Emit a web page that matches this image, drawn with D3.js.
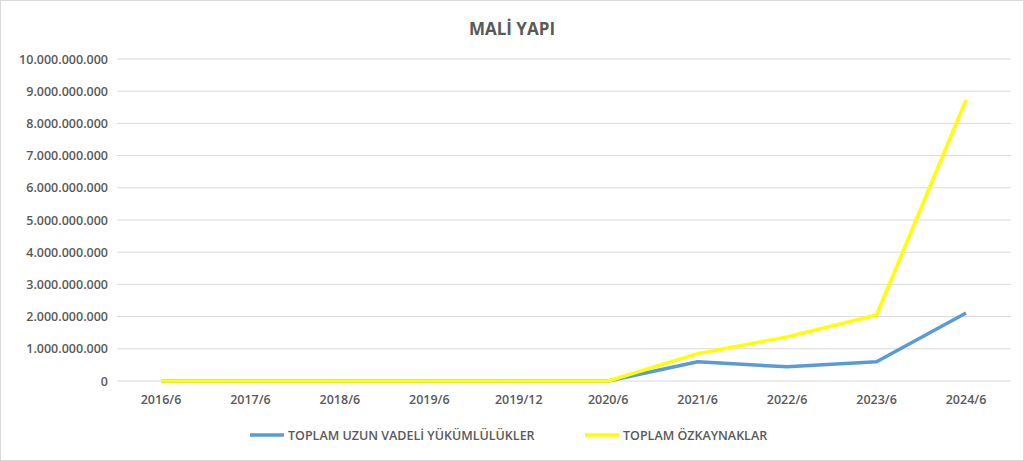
<!DOCTYPE html>
<html><head><meta charset="utf-8">
<script src="https://cdn.jsdelivr.net/npm/d3@7"></script>
<style>body{margin:0;background:#fff}svg{font-family:"Open Sans","Liberation Sans",sans-serif}</style>
</head><body><svg id="c" width="1024" height="461"></svg>
<script>
const categories=["2016/6","2017/6","2018/6","2019/6","2019/12","2020/6","2021/6","2022/6","2023/6","2024/6"];
const longTermLiabilities=[0,0,0,0,0,0,600000000,440000000,600000000,2110000000];
const equity=[0,0,0,0,0,0,850000000,1370000000,2050000000,8730000000];
const seriesNames=["TOPLAM UZUN VADELİ YÜKÜMLÜLÜKLER","TOPLAM ÖZKAYNAKLAR"];
const yTicks=d3.range(0,10000000001,1000000000);
const svg=d3.select("#c");
svg.append("rect").attr("x",0.5).attr("y",0.5).attr("width",1023).attr("height",460).attr("fill","#fff").attr("stroke","#d9d9d9");
const x=d3.scalePoint().domain(categories).range([161,966]).padding(0);
const y=d3.scaleLinear().domain([0,10000000000]).range([381,59]);
const fmt=v=>d3.format(",")(v).replace(/,/g,".");
svg.append("g").selectAll("line").data(yTicks).join("line").attr("x1",117).attr("x2",1011).attr("y1",d=>y(d)).attr("y2",d=>y(d)).attr("stroke","#d9d9d9");
svg.append("g").selectAll("text").data(yTicks).join("text").attr("x",108).attr("y",d=>y(d)+4.5).attr("text-anchor","end").attr("font-size",12.5).attr("font-weight",600).attr("fill","#595959").text(fmt);
svg.append("g").selectAll("text").data(categories).join("text").attr("x",d=>x(d)).attr("y",404).attr("text-anchor","middle").attr("font-size",12.5).attr("font-weight",600).attr("fill","#595959").text(d=>d);
svg.append("text").attr("x",512).attr("y",35).attr("text-anchor","middle").attr("font-size",17).attr("font-weight","bold").attr("fill","#595959").text("MALİ YAPI");
const line=d3.line().x((d,i)=>x(categories[i])).y(d=>y(d));
svg.append("path").datum(longTermLiabilities).attr("d",line).attr("fill","none").attr("stroke","#5b9bd5").attr("stroke-width",3.5).attr("stroke-linejoin","round");
svg.append("path").datum(equity).attr("d",line).attr("fill","none").attr("stroke","#ffff00").attr("stroke-width",3.5).attr("stroke-linejoin","round");
const leg=[{n:seriesNames[0],c:"#5b9bd5",x:250},{n:seriesNames[1],c:"#ffff00",x:585}];
leg.forEach(l=>{svg.append("line").attr("x1",l.x).attr("x2",l.x+34).attr("y1",435).attr("y2",435).attr("stroke",l.c).attr("stroke-width",3.5);
svg.append("text").attr("x",l.x+38).attr("y",440).attr("font-size",12.5).attr("font-weight",600).attr("fill","#595959").text(l.n);});
</script></body></html>
